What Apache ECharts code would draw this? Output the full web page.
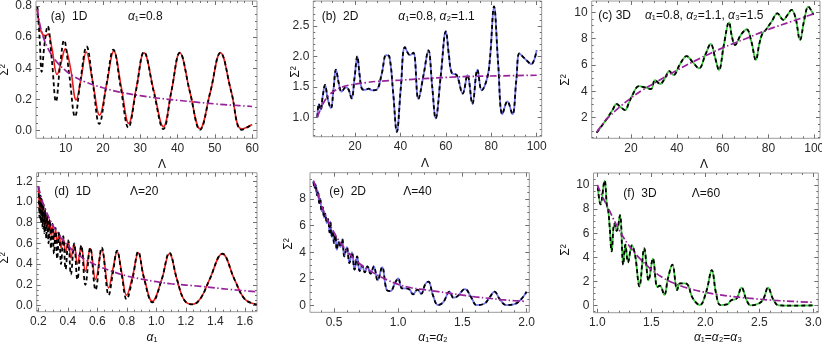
<!DOCTYPE html>
<html>
<head>
<meta charset="utf-8">
<script src="https://cdn.jsdelivr.net/npm/echarts@6/dist/echarts.min.js"></script>
<style>
html, body { margin: 0; padding: 0; background: #fff; }
#chart { width: 822px; height: 344px; }
</style>
</head>
<body>
<div id="chart"></div>
<script>
// (a) 1D, alpha1 = 0.8 : Sigma^2 against Lambda
var aTicksX = [10, 20, 30, 40, 50, 60];
var aTicksY = [0, 0.2, 0.4, 0.6, 0.8];
var aExact = [[2.4,0.795],[3.0,0.6],[3.56,0.378],[4.3,0.55],[5.17,0.671],[6.3,0.45],[7.4,0.186],[8.5,0.42],[9.55,0.58],
  [11.0,0.35],[12.5,0.09],[14.0,0.33],[15.6,0.54],[17.3,0.3],[19.0,0.043],[20.9,0.29],[22.8,0.52],[24.8,0.27],[26.8,0.02],
  [28.9,0.26],[31.0,0.505],[33.6,0.25],[36.2,0.01],[38.4,0.26],[40.6,0.5],[43.3,0.25],[46.0,0.005],[48.8,0.25],[51.5,0.5],
  [54.4,0.25],[57.2,0.005],[60,0.04]];
var aApprox = [[2.4,0.78],[3.0,0.67],[3.9,0.615],[4.6,0.61],[5.3,0.62],[6.3,0.53],[7.7,0.36],[8.7,0.43],[9.9,0.525],
  [11.3,0.4],[12.8,0.197],[14.1,0.33],[15.5,0.505],[17.2,0.32],[19.1,0.1],[21.0,0.3],[22.9,0.51],[24.9,0.28],[26.9,0.047],
  [28.9,0.27],[31.0,0.5],[33.6,0.26],[36.2,0.025],[38.4,0.26],[40.6,0.5],[43.3,0.25],[46.0,0.012],[48.8,0.25],[51.5,0.5],
  [54.4,0.25],[57.2,0.01],[60,0.04]];
var aTrend = [[2.4,0.78],[3,0.69],[4,0.6],[5,0.54],[6,0.495],[8,0.43],[10,0.385],[12,0.35],[15,0.315],[20,0.275],
  [25,0.245],[30,0.225],[35,0.208],[40,0.195],[45,0.183],[50,0.172],[55,0.163],[60,0.155]];

// (b) 2D, alpha1 = 0.8, alpha2 = 1.1
var bTicksX = [20, 40, 60, 80, 100];
var bTicksY = [1.0, 1.5, 2.0, 2.5];
var bExact = [[3.4,1.0],[4.1,1.22],[4.9,1.12],[5.8,1.35],[6.8,1.53],[8.0,1.3],[9.4,1.15],[10.5,1.45],[11.6,1.78],[12.9,1.55],
  [14.1,1.42],[15.9,1.49],[17.1,1.46],[18.5,1.31],[19.8,1.65],[21.0,2.0],[22.0,1.7],[23.0,1.47],[24.5,1.45],[26.0,1.47],
  [27.5,1.44],[29.5,1.45],[31.8,1.72],[33.7,2.02],[35.1,2.0],[36.8,1.4],[38.4,0.76],[40.2,1.5],[42.0,2.15],[44.2,2.02],
  [45.7,2.06],[47.9,1.3],[50.2,1.7],[52.3,2.1],[54.0,1.5],[55.5,0.98],[57.8,1.7],[60.0,2.41],[61.4,2.0],[62.6,1.73],
  [64.8,1.69],[67.4,1.39],[69.5,1.69],[71.7,1.22],[73.9,1.78],[75.8,1.44],[78.3,1.66],[79.5,2.0],[81.2,2.82],[83.0,1.9],
  [84.9,1.05],[87.1,1.26],[89.3,1.05],[91.0,1.6],[92.4,2.05],[94.3,1.98],[96.5,1.9],[97.6,1.87],[100,2.1]];
var bTrend = [[3.4,1.0],[5,1.15],[6.8,1.28],[8.5,1.36],[10.4,1.42],[14,1.49],[17.8,1.53],[25,1.57],[30,1.59],[40,1.61],
  [53,1.64],[70,1.67],[85,1.68],[100,1.69]];

// (c) 3D, alpha1 = 0.8, alpha2 = 1.1, alpha3 = 1.5
var cTicksX = [20, 40, 60, 80, 100];
var cTicksY = [2, 4, 6, 8, 10];
var cExact = [[5,0.86],[7.5,1.45],[10.1,2.08],[12,2.6],[13.7,3.04],[15.5,2.8],[17.4,2.58],[19,3.1],[20.6,3.72],[23.5,4.4],
  [26,4.3],[28.7,4.18],[30.5,4.86],[32.7,4.56],[34.8,5.0],[36.7,5.54],[38.5,5.24],[41.5,6.1],[44.3,6.68],[47,6.2],
  [49.7,5.75],[52.5,6.8],[54.8,7.6],[56.8,6.5],[58.4,5.62],[60.5,7.5],[62.8,9.24],[64,8.2],[65.4,7.52],[68,8.3],[70.5,8.7],
  [72.5,7.8],[74.5,6.38],[76,7.6],[77.4,8.4],[78.8,8.66],[81.4,9.3],[83.9,9.92],[86.5,9.42],[88.3,9.8],[90.1,10.18],
  [91.8,9.6],[93.8,7.9],[95.6,9.4],[97.4,10.43],[99.6,9.8]];
var cTrend = [[5,0.9],[7.5,1.5],[10,2.0],[15,2.8],[20,3.5],[25,4.1],[30,4.6],[40,5.6],[50,6.5],[60,7.3],[70,8.0],[80,8.7],
  [90,9.3],[100,9.9]];

// (d) 1D, Lambda = 20 : Sigma^2 against alpha1
var dTicksX = [0.2, 0.4, 0.6, 0.8, 1.0, 1.2, 1.4, 1.6];
var dTicksY = [0, 0.2, 0.4, 0.6, 0.8, 1.0, 1.2];
var dExact = [[0.202,1.15],[0.208,0.85],[0.212,1.08],[0.218,0.8],[0.222,1.03],[0.229,0.75],[0.234,0.98],[0.241,0.7],
  [0.247,0.93],[0.254,0.65],[0.261,0.88],[0.269,0.6],[0.278,0.83],[0.286,0.55],[0.296,0.79],[0.306,0.5],[0.317,0.75],
  [0.328,0.45],[0.341,0.71],[0.354,0.4],[0.369,0.67],[0.385,0.35],[0.403,0.63],[0.421,0.3],[0.443,0.6],[0.465,0.25],
  [0.491,0.58],[0.519,0.2],[0.552,0.56],[0.588,0.15],[0.63,0.56],[0.677,0.1],[0.705,0.31],[0.734,0.53],[0.765,0.3],
  [0.798,0.06],[0.84,0.27],[0.877,0.52],[0.915,0.27],[0.973,0.03],[1.036,0.25],[1.088,0.51],[1.14,0.25],[1.19,0.05],
  [1.245,0.01],[1.3,0.07],[1.36,0.25],[1.447,0.5],[1.53,0.25],[1.6,0.06],[1.68,0.01]];
var dApprox = [[0.202,1.12],[0.208,0.93],[0.212,1.05],[0.218,0.88],[0.222,1.0],[0.229,0.84],[0.234,0.95],[0.241,0.8],
  [0.247,0.9],[0.254,0.76],[0.261,0.86],[0.269,0.72],[0.278,0.81],[0.286,0.68],[0.296,0.77],[0.306,0.64],[0.317,0.73],
  [0.328,0.6],[0.341,0.69],[0.354,0.56],[0.369,0.65],[0.385,0.51],[0.403,0.62],[0.421,0.46],[0.443,0.59],[0.465,0.4],
  [0.491,0.57],[0.519,0.33],[0.552,0.55],[0.588,0.25],[0.63,0.54],[0.677,0.17],[0.705,0.35],[0.734,0.52],[0.765,0.32],
  [0.798,0.1],[0.84,0.29],[0.877,0.51],[0.915,0.28],[0.973,0.04],[1.036,0.25],[1.088,0.5],[1.14,0.25],[1.19,0.05],
  [1.245,0.012],[1.3,0.07],[1.36,0.25],[1.447,0.5],[1.53,0.25],[1.6,0.06],[1.68,0.01]];
var dTrend = [[0.2,1.15],[0.225,1.02],[0.25,0.92],[0.275,0.84],[0.3,0.77],[0.35,0.66],[0.4,0.58],[0.45,0.51],[0.5,0.46],
  [0.6,0.385],[0.7,0.33],[0.8,0.285],[0.9,0.255],[1.0,0.23],[1.1,0.21],[1.3,0.185],[1.5,0.155],[1.68,0.133]];

// (e) 2D, Lambda = 40 : Sigma^2 against alpha1 = alpha2
var eTicksX = [0.5, 1.0, 1.5, 2.0];
var eTicksY = [0, 2, 4, 6, 8];
var eExact = [[0.34,9.3],[0.35,8.8],[0.358,9.1],[0.367,8.3],[0.375,8.6],[0.385,7.7],[0.393,8.0],[0.403,7.1],[0.412,7.4],
  [0.423,6.6],[0.432,6.9],[0.444,6.2],[0.454,6.5],[0.465,5.5],[0.472,6.3],[0.48,5.2],[0.49,5.6],[0.5,4.7],[0.51,5.3],
  [0.522,4.2],[0.535,4.8],[0.55,4.4],[0.565,5.0],[0.58,3.7],[0.6,4.4],[0.62,3.2],[0.64,4.0],[0.66,2.7],[0.68,3.7],[0.7,2.6],
  [0.72,3.0],[0.74,2.5],[0.76,2.95],[0.785,2.4],[0.81,2.95],[0.84,1.9],[0.875,2.9],[0.91,1.2],[0.94,1.1],[0.975,1.7],
  [1.0,2.05],[1.03,1.3],[1.06,1.3],[1.09,1.2],[1.115,0.85],[1.15,1.2],[1.18,0.9],[1.21,1.6],[1.235,1.8],[1.27,0.8],
  [1.31,0.05],[1.35,0.25],[1.4,1.05],[1.43,0.6],[1.46,0.7],[1.52,1.25],[1.57,0.6],[1.61,0.05],[1.67,0.15],[1.71,0.6],
  [1.75,1.05],[1.79,0.5],[1.84,0.05],[1.9,0.1],[1.95,0.4],[2.0,1.05]];
var eTrend = [[0.34,9.4],[0.4,7.6],[0.45,6.4],[0.5,5.5],[0.55,4.7],[0.6,4.1],[0.7,3.15],[0.8,2.5],[0.9,2.0],[1.0,1.6],
  [1.1,1.35],[1.2,1.2],[1.3,1.07],[1.4,0.93],[1.5,0.8],[1.6,0.66],[1.7,0.56],[1.8,0.46],[1.9,0.38],[2.0,0.32]];

// (f) 3D, Lambda = 60 : Sigma^2 against alpha1 = alpha2 = alpha3
var fTicksX = [1.0, 1.5, 2.0, 2.5, 3.0];
var fTicksY = [0, 2, 4, 6, 8, 10];
var fExact = [[1.005,9.8],[1.03,8.4],[1.068,10.35],[1.09,8.2],[1.1,8.0],[1.115,6.5],[1.133,4.5],[1.158,6.8],[1.18,6.2],
  [1.21,7.5],[1.24,3.4],[1.26,5.05],[1.285,3.6],[1.32,5.0],[1.35,4.2],[1.39,1.6],[1.435,4.75],[1.475,2.1],[1.515,3.9],
  [1.556,1.55],[1.58,1.65],[1.62,0.9],[1.655,2.3],[1.695,3.4],[1.74,1.3],[1.766,1.85],[1.81,1.85],[1.84,1.7],[1.874,0.8],
  [1.91,0.3],[1.95,0.05],[2.01,1.2],[2.06,2.95],[2.1,1.0],[2.14,0.05],[2.2,0.1],[2.24,0.45],[2.29,0.6],[2.336,1.5],
  [2.38,0.5],[2.42,0.03],[2.5,0.2],[2.54,0.6],[2.58,1.5],[2.63,0.5],[2.68,0.03],[2.8,0.01],[3.0,0.02]];
var fTrend = [[1.0,10.0],[1.05,9.0],[1.1,8.1],[1.2,6.3],[1.3,4.9],[1.4,3.85],[1.5,3.0],[1.6,2.35],[1.7,1.9],[1.8,1.55],
  [1.9,1.3],[2.0,1.1],[2.1,0.95],[2.2,0.82],[2.4,0.62],[2.6,0.47],[2.8,0.36],[3.0,0.28]];

var FONT = '"Liberation Sans", Arial, "DejaVu Sans", sans-serif';
var FRAME = '#9a9a9a', TICK = '#707070', LABEL = '#2a2a2a';
var BLACK = '#000000', RED = '#ee1c1c', BLUE = '#7474ee', GREEN = '#3ec83e', PURPLE = '#98229a';
var DASH = [4, 3], DASHDOT = [7, 2.5, 1.5, 2.5];

var panels = [
  { rect: [36, 1, 221, 137.3], x: [2.04, 61.3], y: [-0.049, 0.832], xt: aTicksX, yt: aTicksY, xm: 2, ym: 0.05, xd: 0, yd: 1,
    lines: [[aApprox, RED, 1.6, 'solid'], [aExact, BLACK, 1.8, DASH], [aTrend, PURPLE, 1.7, DASHDOT]] },
  { rect: [313.3, 1, 228.4, 135.7], x: [1.63, 102.2], y: [0.68, 2.91], xt: bTicksX, yt: bTicksY, xm: 5, ym: 0.1, xd: 0, yd: 1,
    lines: [[bExact, BLUE, 1.8, 'solid'], [bExact, BLACK, 1.8, DASH], [bTrend, PURPLE, 1.7, DASHDOT]] },
  { rect: [591.7, 1, 228.3, 137.3], x: [2.84, 102.5], y: [0.436, 10.86], xt: cTicksX, yt: cTicksY, xm: 5, ym: 0.5, xd: 0, yd: 0,
    lines: [[cExact, GREEN, 1.8, 'solid'], [cExact, BLACK, 1.8, DASH], [cTrend, PURPLE, 1.7, DASHDOT]] },
  { rect: [36.7, 172.7, 220.3, 139], x: [0.189, 1.682], y: [-0.06, 1.283], xt: dTicksX, yt: dTicksY, xm: 0.05, ym: 0.05, xd: 1, yd: 1,
    lines: [[dApprox, RED, 1.6, 'solid'], [dExact, BLACK, 1.8, DASH], [dTrend, PURPLE, 1.7, DASHDOT]] },
  { rect: [310, 172.7, 219.3, 139.6], x: [0.313, 2.021], y: [-0.495, 9.98], xt: eTicksX, yt: eTicksY, xm: 0.1, ym: 0.5, xd: 1, yd: 0,
    lines: [[eExact, BLUE, 1.8, 'solid'], [eExact, BLACK, 1.8, DASH], [eTrend, PURPLE, 1.7, DASHDOT]] },
  { rect: [593.5, 173, 224.8, 139.7], x: [0.965, 3.046], y: [-0.58, 10.99], xt: fTicksX, yt: fTicksY, xm: 0.1, ym: 0.5, xd: 1, yd: 0,
    lines: [[fExact, GREEN, 1.8, 'solid'], [fExact, BLACK, 1.8, DASH], [fTrend, PURPLE, 1.7, DASHDOT]] }
];

function minorTicks(lo, hi, step, majors) {
  var out = [];
  for (var k = Math.ceil(lo / step - 1e-9); k * step <= hi + 1e-9; k++) {
    var v = +(k * step).toFixed(6);
    var isMajor = majors.some(function (m) { return Math.abs(m - v) < 1e-9; });
    if (!isMajor) out.push(v);
  }
  return out;
}

function makeAxis(gi, pos, range, values, len, dec) {
  var ax = {
    type: 'value', gridIndex: gi, position: pos, min: range[0], max: range[1],
    axisLine: { show: false, onZero: false },
    splitLine: { show: false },
    axisTick: { show: true, inside: true, length: len, customValues: values, lineStyle: { color: TICK, width: 1 } },
    axisLabel: { show: false }
  };
  if (dec != null) {
    ax.axisLabel = {
      show: true, customValues: values, margin: 4, color: LABEL, fontSize: 12, fontFamily: FONT,
      formatter: function (v) { return v.toFixed(dec); }
    };
  }
  return ax;
}

var grids = [], xAxes = [], yAxes = [], series = [];
panels.forEach(function (p, i) {
  grids.push({ left: p.rect[0], top: p.rect[1], width: p.rect[2], height: p.rect[3],
    show: true, borderColor: FRAME, borderWidth: 1, containLabel: false, outerBoundsMode: 'none' });
  var xMinor = minorTicks(p.x[0], p.x[1], p.xm, p.xt);
  var yMinor = minorTicks(p.y[0], p.y[1], p.ym, p.yt);
  xAxes.push(makeAxis(i, 'bottom', p.x, p.xt, 4, p.xd));
  xAxes.push(makeAxis(i, 'bottom', p.x, xMinor, 2));
  xAxes.push(makeAxis(i, 'top', p.x, p.xt, 4));
  xAxes.push(makeAxis(i, 'top', p.x, xMinor, 2));
  yAxes.push(makeAxis(i, 'left', p.y, p.yt, 4, p.yd));
  yAxes.push(makeAxis(i, 'left', p.y, yMinor, 2));
  yAxes.push(makeAxis(i, 'right', p.y, p.yt, 4));
  yAxes.push(makeAxis(i, 'right', p.y, yMinor, 2));
  p.lines.forEach(function (l) {
    series.push({
      type: 'line', xAxisIndex: i * 4, yAxisIndex: i * 4, data: l[0],
      showSymbol: false, symbol: 'none', smooth: 0.4, silent: true,
      lineStyle: { color: l[1], width: l[2], type: l[3], cap: 'butt' }
    });
  });
});

function txt(x, y, text, extra) {
  var el = {
    type: 'text', x: x, y: y, silent: true,
    style: {
      text: text, fill: '#111', fontSize: 12, fontFamily: FONT, align: 'left', verticalAlign: 'middle',
      rich: { i: { fontStyle: 'italic', fontSize: 12, fontFamily: FONT, fill: '#111' } }
    }
  };
  if (extra) {
    if (extra.align) el.style.align = extra.align;
    if (extra.rotation) el.rotation = extra.rotation;
  }
  return el;
}

var texts = [
  txt(50.7, 16.7, '(a)  1D'), txt(128, 16.7, '{i|α}₁=0.8'),
  txt(321.7, 16.7, '(b)  2D'), txt(398.3, 16.7, '{i|α}₁=0.8, {i|α}₂=1.1'),
  txt(598.3, 15.5, '(c) 3D'), txt(645, 15.5, '{i|α}₁=0.8, {i|α}₂=1.1, {i|α}₃=1.5'),
  txt(54.3, 191.7, '(d)  1D'), txt(130, 191.7, 'Λ=20'),
  txt(329.3, 191.7, '(e)  2D'), txt(403.3, 191.7, 'Λ=40'),
  txt(623.3, 194, '(f)  3D'), txt(691.7, 194, 'Λ=60'),
  txt(162, 165, 'Λ', { align: 'center' }), txt(425, 164, 'Λ', { align: 'center' }), txt(704, 165, 'Λ', { align: 'center' }),
  txt(152, 338, '{i|α}₁', { align: 'center' }), txt(433, 338, '{i|α}₁={i|α}₂', { align: 'center' }),
  txt(718, 338, '{i|α}₁={i|α}₂={i|α}₃', { align: 'center' }),
  txt(5, 70, 'Σ²', { align: 'center', rotation: Math.PI / 2 }), txt(296, 72, 'Σ²', { align: 'center', rotation: Math.PI / 2 }),
  txt(566, 80, 'Σ²', { align: 'center', rotation: Math.PI / 2 }), txt(5, 258, 'Σ²', { align: 'center', rotation: Math.PI / 2 }),
  txt(289, 244, 'Σ²', { align: 'center', rotation: Math.PI / 2 }), txt(566, 250, 'Σ²', { align: 'center', rotation: Math.PI / 2 })
];

var myChart = echarts.init(document.getElementById('chart'), null, { renderer: 'canvas' });
myChart.setOption({
  animation: false,
  backgroundColor: '#fff',
  grid: grids,
  xAxis: xAxes,
  yAxis: yAxes,
  series: series,
  graphic: texts
});
</script>
</body>
</html>
